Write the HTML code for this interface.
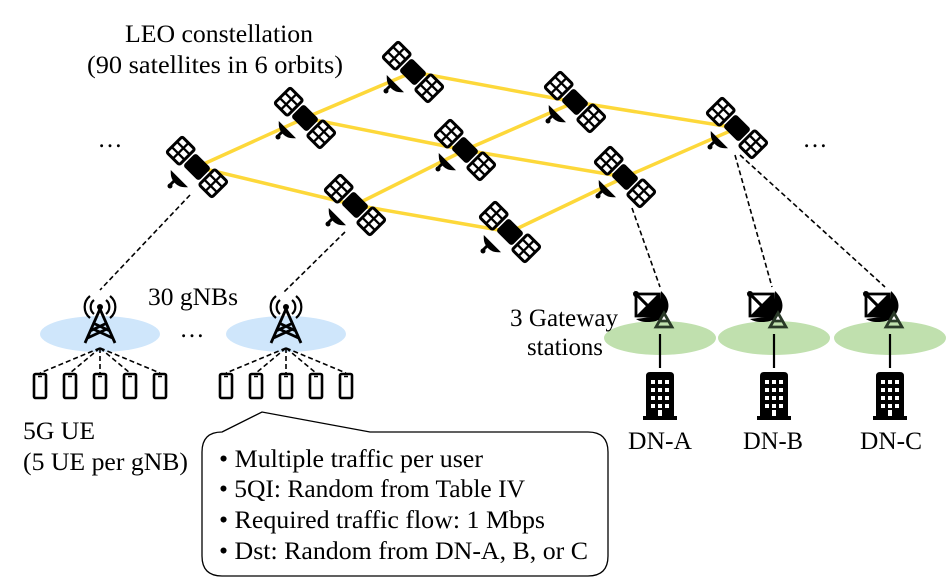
<!DOCTYPE html>
<html><head><meta charset="utf-8"><style>
body{margin:0;background:#fff}
svg{display:block}
</style></head><body>
<svg width="947" height="577" viewBox="0 0 947 577" xmlns="http://www.w3.org/2000/svg">
<defs>
<g id="sat">
 <g transform="rotate(45)">
  <g fill="#fff" stroke="#000" stroke-width="3">
   <rect x="-32" y="-11" width="18" height="22" rx="2"/>
   <rect x="14" y="-11" width="18" height="22" rx="2"/>
  </g>
  <g stroke="#000" stroke-width="2.3">
   <line x1="-23" y1="-11" x2="-23" y2="11"/><line x1="-32" y1="-3.7" x2="-14" y2="-3.7"/><line x1="-32" y1="3.7" x2="-14" y2="3.7"/>
   <line x1="23" y1="-11" x2="23" y2="11"/><line x1="14" y1="-3.7" x2="32" y2="-3.7"/><line x1="14" y1="3.7" x2="32" y2="3.7"/>
  </g>
  <rect x="-11" y="-9" width="22" height="18" rx="3" fill="#000"/>
 </g>
 <path d="M-25,6 L-12,19 A13,13 0 0 1 -25,6 Z" fill="#000" stroke="#000" stroke-width="2.5"/>
 <path d="M-21,12 L-27,18" stroke="#000" stroke-width="3"/>
 <circle cx="-27" cy="19" r="2.5" fill="#000"/>
</g>
<g id="tower" fill="none" stroke="#000" stroke-width="2.8">
 <path d="M-15,27 L0,-7 L15,27 M-10,15 L7,7 M10,15 L-7,7 M-12.5,22 L9,12 M12.5,22 L-9,12"/>
 <circle cx="0" cy="-9" r="3" fill="#000" stroke="none"/>
 <path d="M-6,-16 A9,9 0 0 0 -6,-2 M6,-16 A9,9 0 0 1 6,-2 M-10,-20 A14,14 0 0 0 -10,2 M10,-20 A14,14 0 0 1 10,2" stroke-width="2.2"/>
</g>
<g id="ue"><rect x="-6" y="0" width="12" height="24" rx="1.5" fill="#fff" stroke="#000" stroke-width="2.6"/><line x1="-2" y1="2.5" x2="2" y2="2.5" stroke="#000" stroke-width="1.5"/></g>
<g id="gw">
 <path d="M-24,-44 L-24,-22 L-2,-22 Z" fill="#fff" stroke="#000" stroke-width="2.8"/>
 <path d="M-24,-44 L-1,-44 L-2,-22 Z" fill="#fff" stroke="#000" stroke-width="2.8"/>
 <path d="M-24,-44 L-2,-22" stroke="#000" stroke-width="2.8"/>
 <path d="M-24,-22 L-2,-22 L-2,-44 Z" fill="#000"/>
 <path d="M1,-47 C13,-36 10,-22 -4,-17 C-12,-15 -20,-16 -24,-19 L-2,-22 Z" fill="#000"/>
 <circle cx="-24" cy="-44" r="3" fill="#000"/>
 <path d="M4,-25 L-4,-11 L12,-11 Z M0,-17 L8,-17" fill="none" stroke="#2a3a28" stroke-width="2.8"/>
 <line x1="0" y1="-4" x2="0" y2="30" stroke="#000" stroke-width="2.2"/>
 <path d="M-14,78 L-14,38 Q-14,34 -10,34 L10,34 Q14,34 14,38 L14,78 L17,78 L17,82 L-17,82 L-17,78 Z" fill="#000"/>
 <g fill="#fff"><rect x="-9" y="42" width="4" height="4"/><rect x="-2" y="42" width="4" height="4"/><rect x="5" y="42" width="4" height="4"/><rect x="-9" y="50" width="4" height="4"/><rect x="-2" y="50" width="4" height="4"/><rect x="5" y="50" width="4" height="4"/><rect x="-9" y="58" width="4" height="4"/><rect x="-2" y="58" width="4" height="4"/><rect x="5" y="58" width="4" height="4"/><rect x="-9" y="66" width="4" height="4"/><rect x="-2" y="66" width="4" height="4"/><rect x="5" y="66" width="4" height="4"/><rect x="-2" y="72" width="4" height="6"/></g>
</g>
</defs>

<g stroke="#fdd83a" stroke-width="3.5" fill="none">
 <polyline points="197,167 305,118 413,72"/>
 <polyline points="355,205 465,150 575,102"/>
 <polyline points="510,232 625,177 737,128"/>
 <polyline points="197,167 355,205 510,232"/>
 <polyline points="305,118 465,150 625,177"/>
 <polyline points="413,72 575,102 737,128"/>
</g>

<g stroke="#000" stroke-width="1.6" stroke-dasharray="5,3" fill="none">
 <line x1="190" y1="195" x2="100" y2="290"/>
 <line x1="345" y1="232" x2="284" y2="292"/>
 <line x1="632" y1="208" x2="660" y2="287"/>
 <line x1="735" y1="155" x2="772" y2="287"/>
 <line x1="740" y1="155" x2="885" y2="287"/>
</g>

<use href="#sat" x="413" y="72"/>
<use href="#sat" x="575" y="102"/>
<use href="#sat" x="737" y="128"/>
<use href="#sat" x="305" y="118"/>
<use href="#sat" x="465" y="150"/>
<use href="#sat" x="625" y="177"/>
<use href="#sat" x="197" y="167"/>
<use href="#sat" x="355" y="205"/>
<use href="#sat" x="510" y="232"/>

<ellipse cx="100" cy="334" rx="60" ry="18" fill="#cfe6fb"/>
<ellipse cx="286" cy="334" rx="60" ry="18" fill="#cfe6fb"/>
<use href="#tower" x="100" y="316"/>
<use href="#tower" x="286" y="316"/>
<g stroke="#000" stroke-width="1.6" stroke-dasharray="5,3">
 <line x1="100" y1="348" x2="40" y2="373"/><line x1="100" y1="348" x2="70" y2="373"/><line x1="100" y1="348" x2="100" y2="373"/><line x1="100" y1="348" x2="130" y2="373"/><line x1="100" y1="348" x2="160" y2="373"/>
 <line x1="286" y1="348" x2="226" y2="373"/><line x1="286" y1="348" x2="256" y2="373"/><line x1="286" y1="348" x2="286" y2="373"/><line x1="286" y1="348" x2="316" y2="373"/><line x1="286" y1="348" x2="346" y2="373"/>
</g>
<use href="#ue" x="40" y="374"/><use href="#ue" x="70" y="374"/><use href="#ue" x="100" y="374"/><use href="#ue" x="130" y="374"/><use href="#ue" x="160" y="374"/>
<use href="#ue" x="226" y="374"/><use href="#ue" x="256" y="374"/><use href="#ue" x="286" y="374"/><use href="#ue" x="316" y="374"/><use href="#ue" x="346" y="374"/>

<ellipse cx="660" cy="338" rx="56" ry="17" fill="#c0e0ae"/>
<ellipse cx="774" cy="338" rx="56" ry="17" fill="#c0e0ae"/>
<ellipse cx="890" cy="338" rx="56" ry="17" fill="#c0e0ae"/>
<use href="#gw" x="660" y="338"/>
<use href="#gw" x="774" y="338"/>
<use href="#gw" x="890" y="338"/>

<path d="M222,432 L262,412 L370,432 L588,432 Q608,432 608,452 L608,556 Q608,576 588,576 L222,576 Q202,576 202,556 L202,452 Q202,432 222,432 Z" fill="#fff" stroke="#000" stroke-width="1.3"/>

<g font-family="'Liberation Serif', 'Times New Roman', serif" font-size="25" fill="#000" lengthAdjust="spacingAndGlyphs">
 <text x="125" y="42" textLength="188" lengthAdjust="spacingAndGlyphs">LEO constellation</text>
 <text x="87" y="73" textLength="256" lengthAdjust="spacingAndGlyphs">(90 satellites in 6 orbits)</text>
 <text x="110" y="147" text-anchor="middle">…</text>
 <text x="815" y="147" text-anchor="middle">…</text>
 <text x="148" y="305" textLength="90" lengthAdjust="spacingAndGlyphs">30 gNBs</text>
 <text x="192" y="337" text-anchor="middle">…</text>
 <text x="510" y="326" textLength="108" lengthAdjust="spacingAndGlyphs">3 Gateway</text>
 <text x="527" y="355" textLength="76" lengthAdjust="spacingAndGlyphs">stations</text>
 <text x="23" y="439" textLength="72" lengthAdjust="spacingAndGlyphs">5G UE</text>
 <text x="23" y="470" textLength="165" lengthAdjust="spacingAndGlyphs">(5 UE per gNB)</text>
 <text x="628" y="449" textLength="64" lengthAdjust="spacingAndGlyphs">DN-A</text>
 <text x="743" y="449" textLength="60" lengthAdjust="spacingAndGlyphs">DN-B</text>
 <text x="860" y="449" textLength="62" lengthAdjust="spacingAndGlyphs">DN-C</text>
 <text x="219" y="467" textLength="264" lengthAdjust="spacingAndGlyphs">• Multiple traffic per user</text>
 <text x="219" y="497" textLength="306" lengthAdjust="spacingAndGlyphs">• 5QI: Random from Table IV</text>
 <text x="219" y="528" textLength="326" lengthAdjust="spacingAndGlyphs">• Required traffic flow: 1 Mbps</text>
 <text x="219" y="559" textLength="369" lengthAdjust="spacingAndGlyphs">• Dst: Random from DN-A, B, or C</text>
</g>
</svg>
</body></html>
